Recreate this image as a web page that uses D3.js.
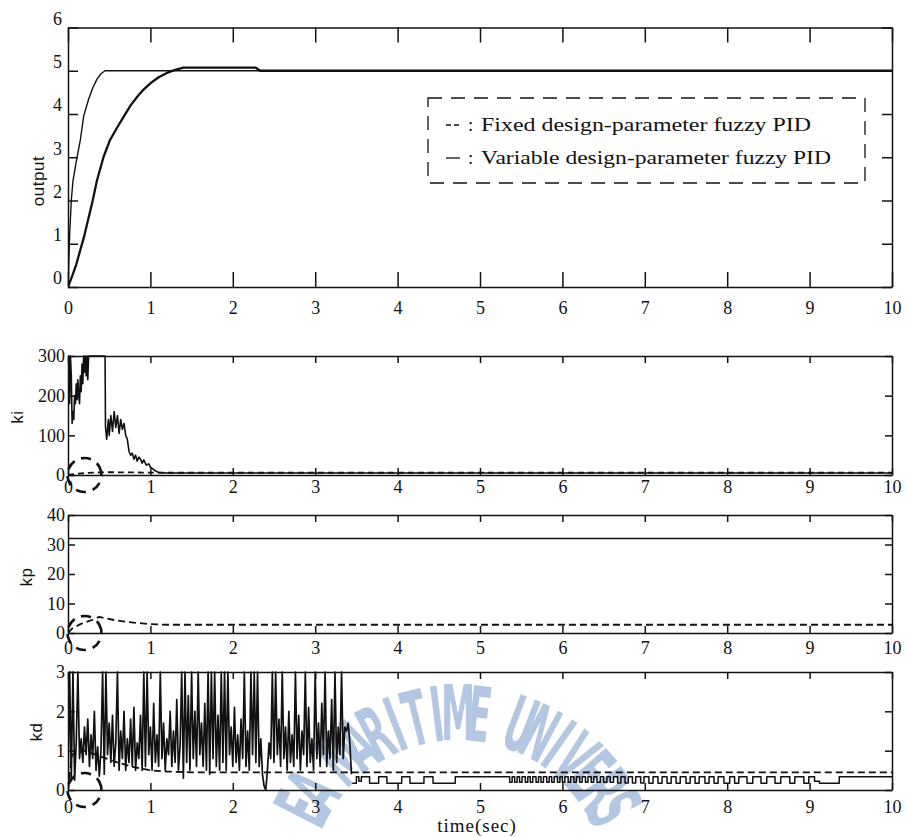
<!DOCTYPE html>
<html>
<head>
<meta charset="utf-8">
<script src="https://cdn.jsdelivr.net/npm/d3@7"></script>
<style>
  body { margin: 0; background: #fff; }
  svg { display: block; }
  .axis text { font-family: "Liberation Serif", "Times New Roman", serif; font-size: 18px; fill: #111; }
  .axis path, .axis line { stroke: #111; stroke-width: 1.5; }
  .title { font-family: "Liberation Sans", Arial, sans-serif; font-size: 17px; fill: #111; letter-spacing: 0.5px; }
  .legend text { font-family: "Liberation Serif", "Times New Roman", serif; font-size: 19px; fill: #111; }
  .wm { font-family: "DejaVu Sans Condensed", "DejaVu Sans", sans-serif; font-weight: bold; font-size: 76px; fill: #b3c7e3; }
</style>
</head>
<body>
<svg id="chart" width="907" height="837"></svg>
<script>
// ---- data ----
const timeTicks = [0, 1, 2, 3, 4, 5, 6, 7, 8, 9, 10];
const outputTicks = [0, 1, 2, 3, 4, 5, 6];
const kiTicks = [0, 100, 200, 300];
const kpTicks = [0, 10, 20, 30, 40];
const kdTicks = [0, 1, 2, 3];

// output: variable design-parameter (fast) and fixed (slow)
const outputVariable = [[0,0],[0.02,1.2],[0.04,2.0],[0.06,2.45],[0.1,2.9],[0.15,3.4],[0.19,3.95],[0.25,4.34],
  [0.3,4.6],[0.35,4.8],[0.4,4.93],[0.45,5.0],[10,5.0]];
const outputFixed = [[0,0],[0.05,0.25],[0.1,0.52],[0.2,1.2],[0.3,2.0],[0.35,2.45],[0.43,3.0],[0.51,3.4],[0.6,3.7],
  [0.68,3.95],[0.76,4.2],[0.84,4.4],[0.92,4.57],[1.0,4.71],[1.1,4.85],[1.2,4.95],[1.3,5.02],[1.4,5.07],
  [2.28,5.07],[2.33,5.0],[10,5.0]];

// ki
const kiVariable = [[0,300],[0.01,300],[0.02,180],[0.03,300],[0.04,250],[0.05,130],[0.06,160],[0.07,140],[0.08,200],
  [0.09,180],[0.10,230],[0.11,190],[0.12,240],[0.13,200],[0.14,180],[0.15,250],[0.16,210],[0.17,280],[0.18,230],
  [0.19,300],[0.20,260],[0.21,300],[0.22,250],[0.23,300],[0.24,240],[0.25,300],[0.45,300],[0.455,120],[0.47,90],
  [0.49,140],[0.5,100],[0.52,150],[0.54,110],[0.56,160],[0.58,120],[0.6,150],[0.62,105],[0.64,140],[0.66,115],
  [0.68,130],[0.7,100],[0.72,90],[0.74,60],[0.76,50],[0.78,55],[0.8,40],[0.82,50],[0.84,35],[0.86,45],[0.88,40],
  [0.9,30],[0.92,38],[0.95,25],[0.98,28],[1.0,20],[1.05,12],[1.1,6],[1.2,5],[10,5]];
const kiFixed = [[0,0],[0.1,3],[0.3,6],[0.5,7],[1,6],[10,6]];

// kp
const kpVariable = [[0,32],[10,32]];
const kpFixed = [[0,0],[0.05,1.5],[0.15,3],[0.3,4.5],[0.38,5.5],[0.45,5],[0.6,4.2],[0.8,3.5],[1.0,3.0],[1.2,2.8],[10,2.8]];

// kd variable: irregular part sampled every 0.02 s from t = 0, then switching part
const kdStep = 0.02;
const kdBurst = [0,3,0.3,3,0.25,1.2,3,0.8,1.3,0.7,1.6,0.9,1.8,0.6,1.4,0.8,2.0,0.5,1.1,0.35,
  1.0,3,0.4,3,0.9,1.7,0.7,1.9,0.6,1.2,3,0.5,1.5,0.8,2.0,0.5,1.3,0.7,1.8,0.6,
  2.1,0.5,1.2,0.8,1.9,0.5,3,0.6,3,0.9,1.6,0.5,2.2,0.7,1.4,0.6,3,0.8,1.7,0.5,
  1.3,0.9,2.0,0.6,1.5,0.7,2.3,0.5,1.1,3,0.3,3,0.7,2.4,0.5,3,0.8,2.0,0.6,3,
  0.9,1.7,0.6,2.2,0.5,3,0.4,3,0.8,3,0.6,1.9,0.5,3,0.7,3,0.5,3,0.9,1.6,
  0.6,2.1,0.7,1.4,0.5,1.8,0.8,3,0.6,1.5,0.5,3,0.9,3,0.7,3,0.6,1.3,0.4,0.1,
  0.0,0.5,1.2,0.8,3,0.7,3,0.9,1.8,0.6,3,0.8,1.6,0.5,2.0,0.7,1.4,0.6,3,0.8,
  1.9,0.5,1.5,0.9,3,0.6,2.1,0.7,1.3,0.5,3,0.8,1.7,0.6,2.2,0.9,3,0.6,1.5,0.8,
  2.3,0.5,3,0.7,1.6,0.9,3,0.8,1.6,1.5,1.7,1.2,0.4];
const kdSwitch = [[3.45,0.17],[3.50,0.34],[3.53,0.22],[3.56,0.34],[3.66,0.17],[3.77,0.34],[3.87,0.17],[4.05,0.34],
  [4.15,0.17],[4.32,0.34],[4.43,0.17],[4.70,0.34],[5.36,0.20],[5.39,0.34],[5.42,0.20],[5.45,0.34],[5.48,0.20],
  [5.51,0.34],[5.55,0.20],[5.58,0.34],[5.61,0.20],[5.64,0.34],[5.68,0.20],[5.71,0.34],[5.74,0.20],[5.77,0.34],
  [5.81,0.20],[5.84,0.34],[5.87,0.20],[5.90,0.34],[5.94,0.20],[5.97,0.34],[6.00,0.20],[6.03,0.34],[6.07,0.20],
  [6.10,0.34],[6.14,0.20],[6.17,0.34],[6.21,0.20],[6.24,0.34],[6.28,0.20],[6.31,0.34],[6.35,0.20],[6.38,0.34],
  [6.42,0.20],[6.46,0.34],[6.50,0.20],[6.54,0.34],[6.58,0.20],[6.62,0.34],[6.67,0.18],[6.71,0.34],[6.76,0.18],
  [6.80,0.34],[6.85,0.18],[6.89,0.34],[6.95,0.18],[6.99,0.34],[7.05,0.17],[7.10,0.34],[7.16,0.17],[7.21,0.34],
  [7.27,0.17],[7.32,0.34],[7.38,0.17],[7.43,0.34],[7.50,0.17],[7.55,0.34],[7.61,0.17],[7.66,0.34],[7.73,0.17],
  [7.78,0.34],[7.84,0.17],[7.89,0.34],[7.96,0.17],[8.03,0.34],[8.09,0.17],[8.14,0.34],[8.24,0.17],[8.31,0.34],
  [8.41,0.17],[8.48,0.34],[8.58,0.17],[8.65,0.34],[8.76,0.17],[8.82,0.34],[8.93,0.17],[8.99,0.34],[9.06,0.22],
  [9.12,0.17],[9.36,0.34],[10,0.34]];
const kdFixed = [[0,0],[0.05,0.9],[0.2,1.0],[0.4,0.85],[0.6,0.7],[0.8,0.58],[1.0,0.5],[1.2,0.47],[1.5,0.45],[10,0.45]];

const legendLabels = ["Fixed design-parameter fuzzy PID", "Variable design-parameter fuzzy PID"];
const watermarkText = "KOREA MARITIME UNIVERSITY";

// ---- layout ----
const svg = d3.select("#chart");
const defs = svg.append("defs");
svg.append("rect").attr("width", 907).attr("height", 837).attr("fill", "#fff");

// faint watermark of the scanned source, one letter at a time along an arc, under the plot
const wmCx = 458, wmCy = 888, wmR = 148, wmStep = 7.0;
const wmMid = (watermarkText.length - 1) / 2;
const wmLetters = watermarkText.split("")
  .map((ch, i) => {
    const a = (i - wmMid) * wmStep;
    const rad = a * Math.PI / 180;
    return { ch, a, px: wmCx + wmR * Math.sin(rad), py: wmCy - wmR * Math.cos(rad) };
  })
  .filter((d) => d.ch !== " " && d.py < 826);
svg.append("g").selectAll("text")
  .data(wmLetters)
  .join("text")
  .attr("class", "wm")
  .attr("text-anchor", "middle")
  .attr("transform", (d) => `translate(${d.px},${d.py}) rotate(${d.a}) scale(0.5,1)`)
  .text((d) => d.ch);

const x = d3.scaleLinear().domain([0, 10]).range([68, 892]);

const panels = [
  { id: "out", domain: [0, 6], top: 27.5, bottom: 287, ticks: outputTicks, title: "output", tx: 38, ty: 181,
    xLen: 15, yLen: 10, xPad: 14, yPad: 6, yShift: -9 },
  { id: "ki", domain: [0, 300], top: 356, bottom: 475, ticks: kiTicks, title: "ki", tx: 17, ty: 417,
    xLen: 7, yLen: 7, xPad: 5, yPad: 3, yShift: 0 },
  { id: "kp", domain: [0, 40], top: 515, bottom: 633, ticks: kpTicks, title: "kp", tx: 26, ty: 577,
    xLen: 7, yLen: 7, xPad: 8, yPad: 3, yShift: 0 },
  { id: "kd", domain: [0, 3], top: 672, bottom: 790, ticks: kdTicks, title: "kd", tx: 36, ty: 732,
    xLen: 7, yLen: 7, xPad: 10, yPad: 3, yShift: 0 }
];

const [x0, x1] = x.range();

panels.forEach((p) => {
  p.y = d3.scaleLinear().domain(p.domain).range([p.bottom, p.top]);
  p.g = svg.append("g").attr("class", "panel-" + p.id);

  defs.append("clipPath").attr("id", "clip-" + p.id)
    .append("rect").attr("x", x0).attr("y", p.top - 1)
    .attr("width", x1 - x0).attr("height", p.bottom - p.top + 2);

  p.plot = p.g.append("g").attr("clip-path", `url(#clip-${p.id})`);

  // axes with inward ticks on all four sides
  p.g.append("g").attr("class", "axis")
    .attr("transform", `translate(0,${p.bottom})`)
    .call(d3.axisBottom(x).tickValues(timeTicks).tickSizeInner(-p.xLen).tickSizeOuter(0).tickPadding(p.xPad).tickFormat(d3.format("d")));
  p.g.append("g").attr("class", "axis")
    .attr("transform", `translate(0,${p.top})`)
    .call(d3.axisTop(x).tickValues(timeTicks).tickSizeInner(-p.xLen).tickSizeOuter(0))
    .selectAll("text").remove();
  const left = p.g.append("g").attr("class", "axis")
    .attr("transform", `translate(${x0},0)`)
    .call(d3.axisLeft(p.y).tickValues(p.ticks).tickSizeInner(-p.yLen).tickSizeOuter(0).tickPadding(p.yPad).tickFormat(d3.format("d")));
  left.selectAll("text").attr("y", p.yShift);
  p.g.append("g").attr("class", "axis")
    .attr("transform", `translate(${x1},0)`)
    .call(d3.axisRight(p.y).tickValues(p.ticks).tickSizeInner(-p.yLen).tickSizeOuter(0))
    .selectAll("text").remove();

  p.g.append("text").attr("class", "title")
    .attr("transform", `translate(${p.tx},${p.ty}) rotate(-90)`)
    .attr("text-anchor", "middle").attr("dominant-baseline", "central")
    .text(p.title);
});

const byId = Object.fromEntries(panels.map((p) => [p.id, p]));

function drawLine(p, data, opts) {
  const line = d3.line().x((d) => x(d[0])).y((d) => p.y(d[1]));
  if (opts.curve) line.curve(opts.curve);
  p.plot.append("path")
    .datum(data)
    .attr("fill", "none")
    .attr("stroke", "#111")
    .attr("stroke-width", opts.width || 1.4)
    .attr("stroke-dasharray", opts.dash || null)
    .attr("stroke-linejoin", "round")
    .attr("d", line);
}

// output panel
drawLine(byId.out, outputFixed, { width: 2.3 });
drawLine(byId.out, outputVariable, { width: 1.4 });

// ki panel
drawLine(byId.ki, kiFixed, { width: 1.8, dash: "6,4" });
drawLine(byId.ki, kiVariable, { width: 1.6 });

// kp panel
drawLine(byId.kp, kpVariable, { width: 1.5 });
drawLine(byId.kp, kpFixed, { width: 1.8, dash: "7,4" });

// kd panel
drawLine(byId.kd, kdFixed, { width: 1.8, dash: "7,4" });
drawLine(byId.kd, kdBurst.map((v, i) => [i * kdStep, v]), { width: 1.7 });
drawLine(byId.kd, kdSwitch, { width: 1.5, curve: d3.curveStepAfter });

// hand-drawn dashed circles around the origin of the gain plots
["ki", "kp", "kd"].forEach((id) => {
  const p = byId[id];
  svg.append("ellipse")
    .attr("cx", x(0.2)).attr("cy", p.y(0))
    .attr("rx", 17).attr("ry", 17)
    .attr("fill", "none").attr("stroke", "#111")
    .attr("stroke-width", 2.6).attr("stroke-dasharray", "10,7")
    .attr("transform", `rotate(-30,${x(0.2)},${p.y(0)})`);
});

// x axis title
svg.append("text")
  .attr("x", 477).attr("y", 832)
  .attr("text-anchor", "middle")
  .style("font-family", "'Liberation Serif', 'Times New Roman', serif")
  .style("font-size", "19px")
  .style("letter-spacing", "1px")
  .attr("fill", "#111")
  .text("time(sec)");

// legend
const legend = svg.append("g").attr("class", "legend");
legend.append("rect")
  .attr("x", 428).attr("y", 98).attr("width", 437).attr("height", 85)
  .attr("fill", "none").attr("stroke", "#111").attr("stroke-width", 1.3)
  .attr("stroke-dasharray", "14,9");
const legendWidths = [330, 350];
legendLabels.forEach((label, i) => {
  const yy = 131 + i * 33;
  legend.append("line")
    .attr("x1", 446).attr("x2", 460).attr("y1", yy - 6).attr("y2", yy - 6)
    .attr("stroke", "#111").attr("stroke-width", 1.3)
    .attr("stroke-dasharray", i === 0 ? "5,3" : null);
  legend.append("text").attr("x", 468).attr("y", yy).text(":");
  legend.append("text").attr("x", 481).attr("y", yy)
    .attr("textLength", legendWidths[i]).attr("lengthAdjust", "spacingAndGlyphs")
    .text(label);
});
</script>
</body>
</html>
